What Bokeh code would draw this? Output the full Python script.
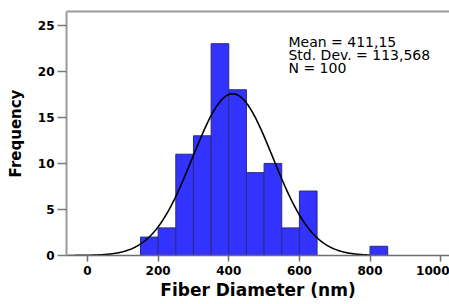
import numpy as np
from bokeh.plotting import figure
from bokeh.models import Label, Range1d, FixedTicker, LinearAxis
from bokeh.embed import file_html
from bokeh.resources import INLINE

# Histogram data (bin width 50 nm)
bin_left = [150, 200, 250, 300, 350, 400, 450, 500, 550, 600, 800]
counts = [2, 3, 11, 13, 23, 18, 9, 10, 3, 7, 1]
bin_width = 50
mean_val = 411.15
std_val = 113.568
n_val = 100
stats_lines = ["Mean = 411,15", "Std. Dev. = 113,568", "N = 100"]
x_ticks = [0, 200, 400, 600, 800, 1000]
y_ticks = [0, 5, 10, 15, 20, 25]

p = figure(width=449, height=304, output_backend="svg", toolbar_location=None,
           x_range=Range1d(-59.5, 1025), y_range=Range1d(0, 26.5),
           min_border_left=66, min_border_right=0, min_border_top=11, min_border_bottom=49)

p.background_fill_color = "white"
p.border_fill_color = "white"
p.outline_line_color = None
p.xgrid.visible = False
p.ygrid.visible = False

xa = p.below[0]
ya = p.left[0]

# top border line (the frame continues past the right edge in the reference)
top_axis = LinearAxis(ticker=FixedTicker(ticks=[]), major_tick_out=0, major_tick_in=0,
                      major_label_standoff=0, major_label_text_font_size="0px",
                      minor_tick_line_color=None, axis_line_color="#9a9a9a", axis_line_width=2)
p.add_layout(top_axis, "above")

left = np.array(bin_left, dtype=float)
p.quad(left=left, right=left + bin_width, bottom=0, top=counts,
       fill_color="#3333FF", line_color="#2a2a7a", line_width=1)

xs = np.linspace(-59.5, 800, 400)
ys = n_val * bin_width * np.exp(-0.5 * ((xs - mean_val) / std_val) ** 2) / (std_val * np.sqrt(2 * np.pi))
p.line(xs, ys, line_color="black", line_width=1.6)

for ax in (xa, ya):
    ax.major_label_text_font = "DejaVu Sans"
    ax.major_label_text_font_style = "bold"
    ax.major_label_text_font_size = "12px"
    ax.major_label_text_color = "black"
    ax.axis_label_text_font = "DejaVu Sans"
    ax.axis_label_text_font_style = "bold"
    ax.axis_label_text_color = "black"
    ax.minor_tick_line_color = None
    ax.major_tick_in = 0

xa.ticker = FixedTicker(ticks=x_ticks)
ya.ticker = FixedTicker(ticks=y_ticks)

xa.axis_label = "Fiber Diameter (nm)"
xa.axis_label_text_font_size = "17px"
xa.major_tick_out = 6
xa.major_label_standoff = 4
xa.axis_label_standoff = 2
xa.axis_line_color = "#6e6e6e"
xa.axis_line_width = 1.5
xa.major_tick_line_color = "#6e6e6e"
xa.major_tick_line_width = 1.5

ya.axis_label = "Frequency"
ya.axis_label_text_font_size = "15px"
ya.major_tick_out = 9
ya.major_label_standoff = 3
ya.axis_label_standoff = 10
ya.axis_line_color = "#9a9a9a"
ya.axis_line_width = 2
ya.major_tick_line_color = "#7a7a7a"
ya.major_tick_line_width = 1.5

for i, t in enumerate(stats_lines):
    p.add_layout(Label(x=569, y=23.15 - i * 1.41, text=t, text_font="DejaVu Sans",
                       text_font_size="14px", text_color="black", text_baseline="alphabetic"))

open("out.html", "w").write(file_html(p, INLINE))
